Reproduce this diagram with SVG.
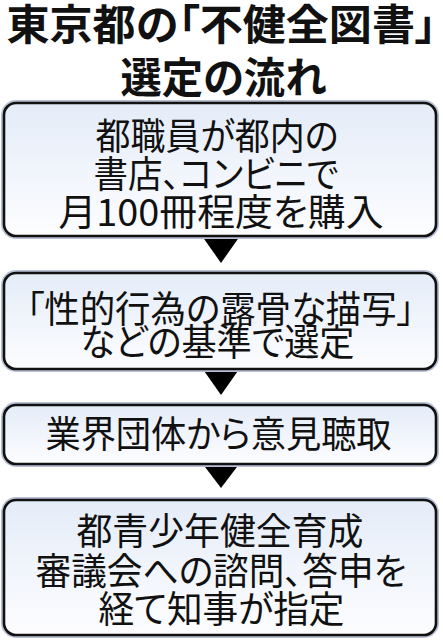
<svg xmlns="http://www.w3.org/2000/svg" width="443" height="640" viewBox="0 0 443 640">
<style>
.t{font-family:"Noto Sans CJK JP","Noto Sans CJK SC",sans-serif;fill:#111;text-anchor:middle;font-feature-settings:"palt";}
.title{font-size:42px;font-weight:700;}
.body{font-size:37px;font-weight:400;}
.halo{fill:none;stroke:#b8c0d6;stroke-width:6;}
.box{fill:url(#g);stroke:#111;stroke-width:2.6;}
.arr{fill:#000;}
</style>
<defs>
<linearGradient id="g" x1="0" y1="0" x2="0" y2="1">
<stop offset="0" stop-color="#e4ecf8"/>
<stop offset="1" stop-color="#fdfdff"/>
</linearGradient>
</defs>
<rect width="443" height="640" fill="#fff"/>
<g id="title">
<text class="t title" x="221.5" y="39.5" textLength="430" lengthAdjust="spacingAndGlyphs">東京都の「不健全図書」</text>
<text class="t title" x="223.5" y="92.5" textLength="206" lengthAdjust="spacingAndGlyphs">選定の流れ</text>
</g>
<g id="connectors">
<polygon class="arr" points="202,236 240,236 221,263"/>
<polygon class="arr" points="202,368 240,368 221,395"/>
<polygon class="arr" points="202,463 240,463 221,488"/>
</g>
<g id="node1">
<rect class="halo" x="4" y="103" width="432" height="133" rx="12"/>
<rect class="box" x="4" y="103" width="432" height="133" rx="12"/>
<text class="t body" x="217" y="150" textLength="243" lengthAdjust="spacingAndGlyphs">都職員が都内の</text>
<text class="t body" x="216" y="188" textLength="245" lengthAdjust="spacingAndGlyphs">書店、コンビニで</text>
<text class="t body" x="221" y="226" textLength="325" lengthAdjust="spacingAndGlyphs">月100冊程度を購入</text>
</g>
<g id="node2">
<rect class="halo" x="4" y="273" width="432" height="96" rx="12"/>
<rect class="box" x="4" y="273" width="432" height="96" rx="12"/>
<text class="t body" x="220.5" y="323" textLength="388" lengthAdjust="spacingAndGlyphs">「性的行為の露骨な描写」</text>
<text class="t body" x="217.5" y="356" textLength="274" lengthAdjust="spacingAndGlyphs">などの基準で選定</text>
</g>
<g id="node3">
<rect class="halo" x="4" y="405" width="432" height="59" rx="12"/>
<rect class="box" x="4" y="405" width="432" height="59" rx="12"/>
<text class="t body" x="218.5" y="448" textLength="346" lengthAdjust="spacingAndGlyphs">業界団体から意見聴取</text>
</g>
<g id="node4">
<rect class="halo" x="4" y="500" width="432" height="135" rx="12"/>
<rect class="box" x="4" y="500" width="432" height="135" rx="12"/>
<text class="t body" x="220" y="545" textLength="287" lengthAdjust="spacingAndGlyphs">都青少年健全育成</text>
<text class="t body" x="221" y="585" textLength="371" lengthAdjust="spacingAndGlyphs">審議会への諮問、答申を</text>
<text class="t body" x="221.5" y="623" textLength="246" lengthAdjust="spacingAndGlyphs">経て知事が指定</text>
</g>
</svg>
